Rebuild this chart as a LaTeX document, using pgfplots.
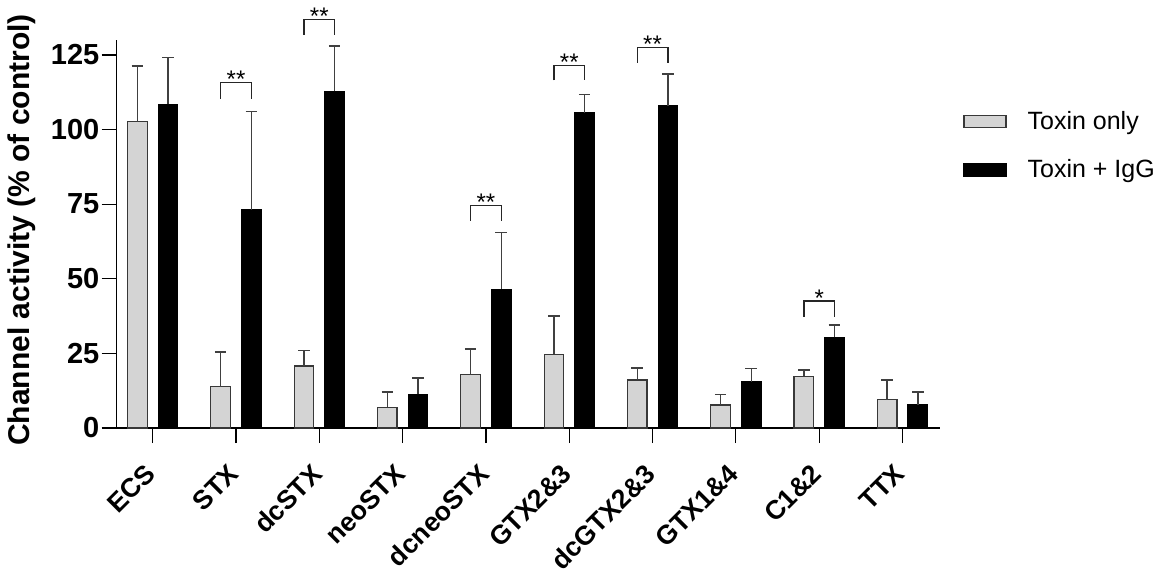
\documentclass[border=0pt]{standalone}
\usepackage{fontspec}
\setmainfont{Liberation Sans}
\usepackage{pgfplots}
\pgfplotsset{compat=1.18}
\usepackage{pgfplotstable}

\definecolor{barGray}{HTML}{D4D4D4}
\definecolor{edgeGray}{HTML}{383838}
\definecolor{errGray}{HTML}{404040}

% idx  toxin-only  err   toxin+IgG  err
\pgfplotstableread{
x  g      ge     b      be
0  102.6  18.6   108.4  15.7
1  13.9   11.5   73.2   32.9
2  20.8   5.2    112.8  15.1
3  6.9    5.1    11.3   5.4
4  17.8   8.7    46.5   19.0
5  24.7   12.9   105.7  6.0
6  16.1   4.0    107.9  10.7
7  7.7    3.5    15.5   4.4
8  17.3   2.2    30.4   4.1
9  9.5    6.6    7.7    4.3
}\toxdata

\newcommand{\sig}[4]{% x, leg, top, stars
  \draw[line width=0.65pt, black!85] (axis cs:#1-0.184,#2) -- (axis cs:#1-0.184,#3)
    -- (axis cs:#1+0.184,#3) -- (axis cs:#1+0.184,#2);
  \node[anchor=base, inner sep=0pt, yshift=-2.6pt, font=\fontsize{12}{14}\selectfont]
    at (axis cs:#1,#3) {#4};
}

\begin{document}
\begin{tikzpicture}
\useasboundingbox (-58.35pt,-72.5pt) rectangle (526.65pt,214pt);
\begin{axis}[
  scale only axis,
  width=411.65pt, height=194pt,
  xmin=-0.432, xmax=9.45,
  ymin=0, ymax=130,
  axis x line=bottom, axis y line=left,
  axis line style={-, line width=0.65pt},
  tick style={line width=0.6pt, black},
  tick align=outside,
  major tick length=7.5pt,
  xtick={0,...,9},
  xticklabels={ECS, STX, dcSTX, neoSTX, dcneoSTX, GTX2\&3, dcGTX2\&3, GTX1\&4, C1\&2, TTX},
  ytick={0,25,50,75,100,125},
  /pgf/number format/assume math mode=true,
  yticklabel style={font=\fontsize{14.5}{16}\selectfont\bfseries, inner sep=1pt},
  xticklabel style={font=\fontsize{13.3}{15}\selectfont\bfseries,
    xshift=-4.5pt, yshift=-9.5pt, rotate=45, anchor=north east, inner sep=0pt},
  ylabel={Channel activity (\% of control)},
  ylabel style={font=\fontsize{15}{17}\selectfont\bfseries, at={(axis description cs:-0.115,0.51)}, anchor=center, rotate=0},
  clip=false,
  legend style={draw=none, at={(axis description cs:1.028,0.727)}, anchor=west,
    inner sep=0pt, font=\fontsize{12.5}{14}\selectfont, row sep=9.5pt,
    legend cell align=left},
  legend image code/.code={\draw[#1, line width=0.6pt] (0pt,-3pt) rectangle (21pt,3pt);},
  legend columns=1,
]
\addplot[ybar, bar width=0.235, fill=barGray, draw=edgeGray, line width=0.6pt,
  error bars/.cd, y dir=plus, y explicit,
  error bar style={line width=0.7pt, errGray},
  error mark options={rotate=90, mark size=2.9pt, line width=0.8pt, errGray}]
  table[x expr=\thisrow{x}-0.184, y=g, y error=ge] {\toxdata};
\addlegendentry{\hspace{8.5pt}Toxin only}
\addplot[ybar, bar width=0.235, fill=black, draw=black, line width=0.6pt,
  error bars/.cd, y dir=plus, y explicit,
  error bar style={line width=0.7pt, errGray},
  error mark options={rotate=90, mark size=2.9pt, line width=0.8pt, errGray}]
  table[x expr=\thisrow{x}+0.184, y=b, y error=be] {\toxdata};
\addlegendentry{\hspace{8.5pt}Toxin + IgG}

\sig{1}{110.3}{115.8}{**}
\sig{2}{131.8}{136.8}{**}
\sig{4}{69.5}{74.6}{**}
\sig{5}{116.5}{121.5}{**}
\sig{6}{122.3}{127.5}{**}
\sig{8}{37.3}{42.6}{*}
\end{axis}
\end{tikzpicture}
\end{document}
